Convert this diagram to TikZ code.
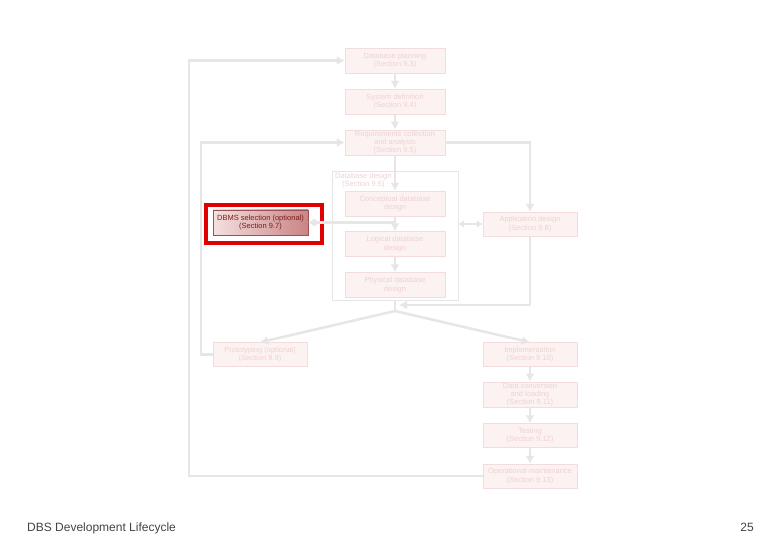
\documentclass[tikz,border=0pt]{standalone}
\usepackage{fontspec}
\setmainfont{Liberation Sans}
\usepackage{tikz}
\usetikzlibrary{arrows.meta}
\definecolor{stagefill}{HTML}{FCF2F2}
\definecolor{stageline}{HTML}{F3DCDC}
\definecolor{stagetext}{HTML}{EFD2D2}
\definecolor{flowline}{HTML}{E6E6E6}
\definecolor{dbmsleft}{HTML}{F5E0E0}
\definecolor{dbmsright}{HTML}{C98484}
\definecolor{dbmsline}{HTML}{9A5252}
\definecolor{dbmstext}{HTML}{7A1C1C}
\definecolor{markred}{HTML}{E00000}
\definecolor{footgray}{HTML}{444444}

\begin{document}
\begin{tikzpicture}[x={(1pt,0pt)},y={(0pt,-1pt)},>={Latex[length=8pt,width=9pt]}]
 \tikzstyle{stage} = [draw=stageline,fill=stagefill,text=stagetext,font=\fontsize{7.5}{8.3}\selectfont,align=center,minimum width=100pt,minimum height=25pt,inner sep=1pt]
 \tikzstyle{sidestage} = [stage,minimum width=94pt,minimum height=24pt]
 \tikzstyle{flow} = [draw=flowline,line width=2.5pt]

  \useasboundingbox[fill=white] (0,0) rectangle (780,540);

  % Database design frame
  \node[draw=flowline,fill=white,minimum width=126pt,minimum height=129pt] (dbd) at (395,235.5) {};
  \node[anchor=north west,align=center,text=stagetext,font=\fontsize{7.5}{8.3}\selectfont,inner sep=1pt] (dbdlabel) at (334,172) {Database design\\(Section 9.6)};

  % Stages
  \node[stage] (plan)    at (395,60.5)  {Database planning\\(Section 9.3)};
  \node[stage] (sysdef)  at (395,101.5) {System definition\\(Section 9.4)};
  \node[stage] (req)     at (395,142.5) {Requirements collection\\and analysis\\(Section 9.5)};
  \node[stage] (concept) at (395,203.5) {Conceptual database\\design};
  \node[stage] (logic)   at (395,244)   {Logical database\\design};
  \node[stage] (phys)    at (395,285)   {Physical database\\design};

  \node[sidestage] (app)   at (530,224)   {Application design\\(Section 9.8)};
  \node[sidestage] (proto) at (260,354.5) {Prototyping (optional)\\(Section 9.9)};
  \node[sidestage] (impl)  at (530,354.5) {Implementation\\(Section 9.10)};
  \node[sidestage] (conv)  at (530,394.5) {Data conversion\\and loading\\(Section 9.11)};
  \node[sidestage] (test)  at (530,435.5) {Testing\\(Section 9.12)};
  \node[sidestage] (maint) at (530,476)   {Operational maintenance\\(Section 9.13)};

  \node[draw=dbmsline,left color=dbmsleft,right color=dbmsright,text=dbmstext,font=\fontsize{7.5}{8.3}\selectfont,align=center,minimum width=95pt,minimum height=25pt,inner sep=0pt] (dbms) at (260.5,222.5) {DBMS selection (optional)\\(Section 9.7)};
  \node[draw=markred,line width=4pt,minimum width=116pt,minimum height=38pt] (mark) at (264,224) {};

  \coordinate (fork)  at (395,311);
  \coordinate (merge) at (399,305);

  % Main flow
  \draw[flow,->] (plan) -- (sysdef);
  \draw[flow,->] (sysdef) -- (req);
  \draw[flow,->] (req) -- (concept);
  \draw[flow,->] (concept) -- (logic);
  \draw[flow,->] (logic) -- (phys);
  \draw[flow,->] (req.east) -| (app.north);
  \draw[flow,{Latex[length=6pt,width=8pt]Latex[length=6pt,width=8pt,reversed]}-] (dbms.east) -- (dbms.east -| concept.south);
  \draw[flow,{Latex[length=6pt,width=8pt]}-{Latex[length=6pt,width=8pt]}] (dbd.east |- app.west) -- (app.west);
  \draw[flow,->] (app.south) |- (merge);
  \draw[flow] (dbd.south) -- (fork);
  \draw[flow,->] (fork) -- (proto.north);
  \draw[flow,->] (fork) -- (impl.north);
  \draw[flow,->] (impl) -- (conv);
  \draw[flow,->] (conv) -- (test);
  \draw[flow,->] (test) -- (maint);

  % Feedback loops
  \draw[flow,->] (proto.west) -- ++(-12,0) |- (req.west);
  \draw[flow,->] (maint.west) -- ++(-294,0) |- (plan.west);

  % Footer
  \node[anchor=base west,inner sep=0pt,text=footgray,font=\fontsize{12}{14}\selectfont] (title) at (27,531) {DBS Development Lifecycle};
  \node[anchor=base east,inner sep=0pt,text=footgray,font=\fontsize{12}{14}\selectfont] (page) at (754,531) {25};

\end{tikzpicture}
\end{document}
